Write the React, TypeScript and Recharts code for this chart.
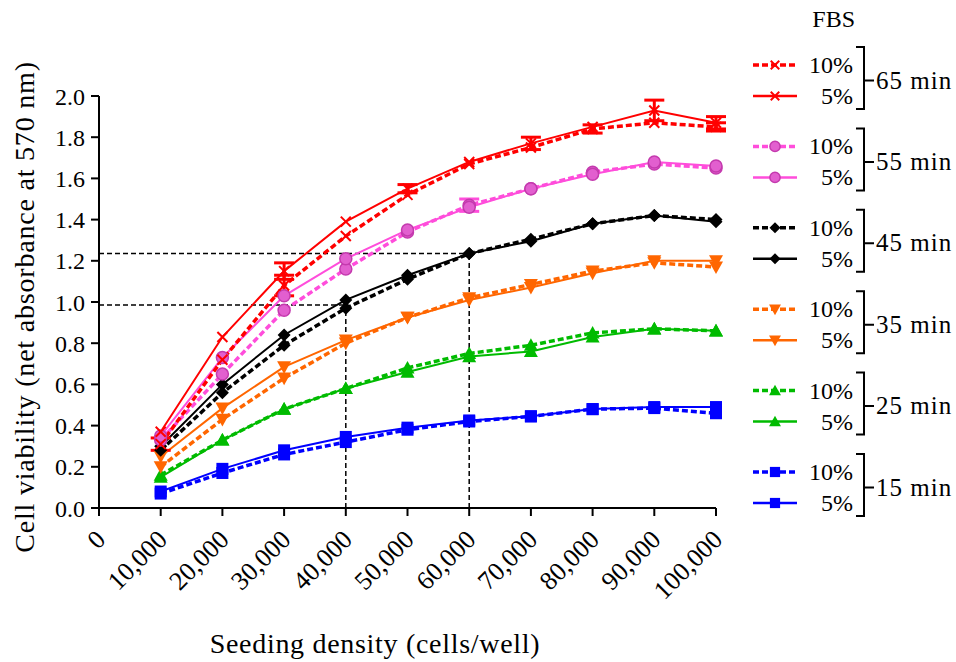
// @ts-nocheck
import React from 'react';
import {
  LineChart,
  Line,
  XAxis,
  YAxis,
  ReferenceLine,
  ErrorBar,
} from 'recharts';

const seeding = [10000, 20000, 30000, 40000, 50000, 60000, 70000, 80000, 90000, 100000];
const xTicks = [0, 10000, 20000, 30000, 40000, 50000, 60000, 70000, 80000, 90000, 100000];
const yTicks = [0, 0.2, 0.4, 0.6, 0.8, 1.0, 1.2, 1.4, 1.6, 1.8, 2.0];

// net absorbance, FBS 10% (dashed) and 5% (solid)
const min65_10 = [0.31, 0.72, 1.08, 1.32, 1.52, 1.67, 1.75, 1.84, 1.87, 1.85];
const min65_5 = [0.37, 0.83, 1.15, 1.39, 1.55, 1.68, 1.77, 1.85, 1.93, 1.87];
const min55_10 = [0.33, 0.65, 0.96, 1.16, 1.34, 1.47, 1.55, 1.63, 1.67, 1.65];
const min55_5 = [0.35, 0.73, 1.03, 1.21, 1.35, 1.46, 1.55, 1.62, 1.68, 1.66];
const min45_10 = [0.28, 0.56, 0.79, 0.97, 1.11, 1.235, 1.305, 1.38, 1.42, 1.4];
const min45_5 = [0.3, 0.6, 0.84, 1.01, 1.13, 1.235, 1.295, 1.38, 1.42, 1.39];
const min35_10 = [0.2, 0.43, 0.63, 0.8, 0.925, 1.02, 1.085, 1.15, 1.19, 1.17];
const min35_5 = [0.25, 0.485, 0.685, 0.815, 0.925, 1.01, 1.07, 1.14, 1.2, 1.2];
const min25_10 = [0.16, 0.33, 0.48, 0.58, 0.68, 0.75, 0.79, 0.85, 0.87, 0.86];
const min25_5 = [0.15, 0.33, 0.48, 0.58, 0.66, 0.735, 0.76, 0.83, 0.87, 0.86];
const min15_10 = [0.07, 0.17, 0.26, 0.32, 0.38, 0.42, 0.445, 0.48, 0.485, 0.46];
const min15_5 = [0.08, 0.19, 0.28, 0.345, 0.39, 0.425, 0.445, 0.48, 0.49, 0.49];

// error (SD) where visible
const err65_10 = [0.03, null, 0.05, null, null, null, null, 0.02, null, 0.02];
const err65_5 = [null, null, 0.04, null, 0.02, null, 0.03, null, 0.05, 0.03];
const err55_10 = [null, null, null, null, null, 0.03, null, null, null, null];

const guideX = [40000, 60000];
const guideY = [0.985, 1.235];

const data = seeding.map((x, i) => ({
  x,
  m65_10: min65_10[i],
  m65_5: min65_5[i],
  m55_10: min55_10[i],
  m55_5: min55_5[i],
  m45_10: min45_10[i],
  m45_5: min45_5[i],
  m35_10: min35_10[i],
  m35_5: min35_5[i],
  m25_10: min25_10[i],
  m25_5: min25_5[i],
  m15_10: min15_10[i],
  m15_5: min15_5[i],
  e65_10: err65_10[i],
  e65_5: err65_5[i],
  e55_10: err55_10[i],
}));

const groups = [
  { label: '65 min', key: 'm65', color: '#ff0000', shape: 'cross', err: ['e65_10', 'e65_5'] },
  { label: '55 min', key: 'm55', color: '#ff4ddb', shape: 'circle', err: ['e55_10', null] },
  { label: '45 min', key: 'm45', color: '#000000', shape: 'diamond', err: [null, null] },
  { label: '35 min', key: 'm35', color: '#ff6600', shape: 'down', err: [null, null] },
  { label: '25 min', key: 'm25', color: '#00bb00', shape: 'up', err: [null, null] },
  { label: '15 min', key: 'm15', color: '#0000ff', shape: 'square', err: [null, null] },
];

const FONT = '"Liberation Serif", serif';

function Marker({ cx, cy, shape, color, s = 1 }) {
  if (cx == null || cy == null) return null;
  if (shape === 'cross') {
    const d = 5 * s;
    return (
      <g stroke={color} strokeWidth={2}>
        <line x1={cx - d} y1={cy - d} x2={cx + d} y2={cy + d} />
        <line x1={cx - d} y1={cy + d} x2={cx + d} y2={cy - d} />
      </g>
    );
  }
  if (shape === 'circle') {
    return <circle cx={cx} cy={cy} r={6 * s} fill="#e25fcf" stroke="#c43aae" strokeWidth={1.5} />;
  }
  if (shape === 'diamond') {
    const d = 6.5 * s;
    return <polygon points={`${cx},${cy - d} ${cx + d},${cy} ${cx},${cy + d} ${cx - d},${cy}`} fill={color} />;
  }
  if (shape === 'down') {
    const d = 7 * s;
    return <polygon points={`${cx - d},${cy - d * 0.8} ${cx + d},${cy - d * 0.8} ${cx},${cy + d}`} fill={color} />;
  }
  if (shape === 'up') {
    const d = 7 * s;
    return <polygon points={`${cx - d},${cy + d * 0.8} ${cx + d},${cy + d * 0.8} ${cx},${cy - d}`} fill={color} />;
  }
  const d = 6 * s;
  return <rect x={cx - d} y={cy - d} width={2 * d} height={2 * d} fill={color} />;
}

const XTick = ({ x, y, payload }) => {
  const ax = x + 8;
  const ay = y + 23;
  return (
    <text
      x={ax}
      y={ay}
      textAnchor="end"
      fontSize={26}
      fontFamily={FONT}
      fill="#000"
      transform={`rotate(-45 ${ax} ${ay})`}
    >
      {payload.value.toLocaleString('en-US')}
    </text>
  );
};

export default function App() {
  const series = [];
  [...groups].reverse().forEach((g) => {
    ['10', '5'].forEach((fbs, j) => {
      const dashed = fbs === '10';
      const errKey = g.err[j];
      series.push(
        <Line
          key={`${g.key}_${fbs}`}
          dataKey={`${g.key}_${fbs}`}
          type="linear"
          stroke={g.color}
          strokeWidth={dashed ? 3.5 : 2}
          strokeDasharray={dashed ? '6 3' : undefined}
          isAnimationActive={false}
          dot={(p) => (
            <Marker key={`${g.key}_${fbs}_${p.index}`} cx={p.cx} cy={p.cy} shape={g.shape} color={g.color} />
          )}
          activeDot={false}
        >
          {errKey && (
            <ErrorBar dataKey={errKey} direction="y" width={10} stroke={g.color} strokeWidth={3} />
          )}
        </Line>
      );
    });
  });

  return (
    <div style={{ position: 'absolute', left: 0, top: 0, width: 956, height: 662, background: '#fff' }}>
      <LineChart
        width={956}
        height={662}
        data={data}
        margin={{ top: 96, right: 240, left: 0, bottom: 54 }}
        style={{ position: 'absolute', left: 0, top: 0 }}
      >
        <XAxis
          dataKey="x"
          type="number"
          domain={[0, 100000]}
          ticks={xTicks}
          interval={0}
          height={100}
          tick={<XTick />}
          tickSize={8}
          axisLine={{ stroke: '#000', strokeWidth: 2 }}
          tickLine={{ stroke: '#000', strokeWidth: 2 }}
        />
        <YAxis
          type="number"
          domain={[0, 2]}
          ticks={yTicks}
          interval={0}
          width={99}
          tickSize={8}
          tickMargin={6}
          tickFormatter={(v) => v.toFixed(1)}
          tick={{ fill: '#000', fontSize: 24, fontFamily: FONT }}
          axisLine={{ stroke: '#000', strokeWidth: 2 }}
          tickLine={{ stroke: '#000', strokeWidth: 2 }}
        />
        <ReferenceLine
          segment={[{ x: 0, y: guideY[1] }, { x: guideX[1], y: guideY[1] }]}
          stroke="#000"
          strokeWidth={1.5}
          strokeDasharray="5 3"
        />
        <ReferenceLine
          segment={[{ x: 0, y: guideY[0] }, { x: guideX[0], y: guideY[0] }]}
          stroke="#000"
          strokeWidth={1.5}
          strokeDasharray="5 3"
        />
        <ReferenceLine
          segment={[{ x: guideX[0], y: 0 }, { x: guideX[0], y: guideY[0] }]}
          stroke="#000"
          strokeWidth={1.5}
          strokeDasharray="5 3"
        />
        <ReferenceLine
          segment={[{ x: guideX[1], y: 0 }, { x: guideX[1], y: guideY[1] }]}
          stroke="#000"
          strokeWidth={1.5}
          strokeDasharray="5 3"
        />
        {series}
      </LineChart>

      <svg
        width={956}
        height={662}
        style={{ position: 'absolute', left: 0, top: 0, pointerEvents: 'none' }}
        fontFamily={FONT}
      >
        <text
          x={34}
          y={307}
          fontSize={28}
          letterSpacing={0.8}
          textAnchor="middle"
          transform="rotate(-90 34 307)"
        >
          Cell viability (net absorbance at 570 nm)
        </text>
        <text x={375} y={653} fontSize={28} letterSpacing={0.7} textAnchor="middle">
          Seeding density (cells/well)
        </text>

        <text x={855} y={27} fontSize={24} textAnchor="end">
          FBS
        </text>
        {groups.map((g, i) => {
          const y10 = 65 + i * 81.4;
          const y5 = y10 + 31;
          const mid = (y10 + y5) / 2;
          return (
            <g key={g.key}>
              <line x1={753} x2={797} y1={y10} y2={y10} stroke={g.color} strokeWidth={3.5} strokeDasharray="6 3" />
              <Marker cx={775} cy={y10} shape={g.shape} color={g.color} s={0.85} />
              <line x1={753} x2={797} y1={y5} y2={y5} stroke={g.color} strokeWidth={2.5} />
              <Marker cx={775} cy={y5} shape={g.shape} color={g.color} s={0.85} />
              <text x={853} y={y10 + 8} fontSize={24} textAnchor="end">10%</text>
              <text x={853} y={y5 + 8} fontSize={24} textAnchor="end">5%</text>
              <path
                d={`M856 ${y10 - 18} H864 V${y5 + 13} H856 M864 ${mid} H874`}
                stroke="#000"
                strokeWidth={2}
                fill="none"
              />
              <text x={876} y={mid + 8} fontSize={25} letterSpacing={1}>{g.label}</text>
            </g>
          );
        })}
      </svg>
    </div>
  );
}
